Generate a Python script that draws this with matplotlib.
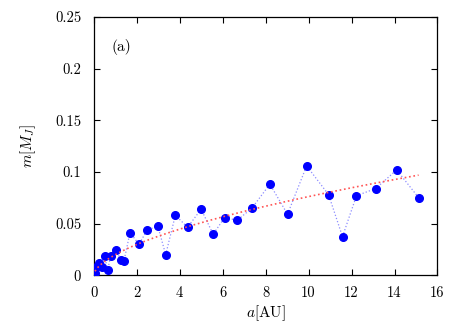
import numpy as np
import matplotlib
matplotlib.use('Agg')
import matplotlib.pyplot as plt
from matplotlib.ticker import FuncFormatter

plt.rcParams['font.family'] = 'serif'
plt.rcParams['font.serif'] = ['cmr10', 'DejaVu Serif']
plt.rcParams['mathtext.fontset'] = 'cm'
plt.rcParams['axes.unicode_minus'] = False

# semi-major axis [AU] and mass [M_J]
a_au = [0.06, 0.11, 0.25, 0.37, 0.51, 0.65, 0.79, 1.04, 1.26, 1.41,
        1.69, 2.11, 2.48, 2.98, 3.35, 3.80, 4.37, 5.00, 5.56, 6.09,
        6.68, 7.36, 8.20, 9.02, 9.91, 10.93, 11.58, 12.23, 13.12, 14.10,
        15.12]
m_mj = [0.0025, 0.0078, 0.0116, 0.0078, 0.0187, 0.0051, 0.0187, 0.0245, 0.0148, 0.0141,
        0.0413, 0.0300, 0.0436, 0.0478, 0.0200, 0.0581, 0.0465, 0.0640, 0.0397, 0.0558,
        0.0533, 0.0649, 0.0882, 0.0591, 0.1059, 0.0781, 0.0374, 0.0771, 0.0839, 0.1020,
        0.0752]

# power-law fit m = c * a^p (parameters)
fit_c = 0.0199
fit_p = 0.583

fig = plt.figure(figsize=(4.58, 3.21), dpi=100)
ax = fig.add_axes([0.2046, 0.1424, 0.7506, 0.8046])

ax.plot(a_au, m_mj, ':', color='#8c8cff', lw=0.9, zorder=2)
ax.plot(a_au, m_mj, 'o', color='#0000ff', ms=5.5, mec='#0000ff', zorder=3)

xf = np.linspace(min(a_au), max(a_au), 200)
ax.plot(xf, fit_c * xf ** fit_p, ':', color='#ff5555', lw=1.2, zorder=4)

ax.set_xlim(0, 16)
ax.set_ylim(0, 0.25)
ax.set_xticks(range(0, 17, 2))
ax.set_yticks([0, 0.05, 0.1, 0.15, 0.2, 0.25])
ax.yaxis.set_major_formatter(FuncFormatter(lambda v, p: f'{v:g}'))
ax.tick_params(direction='in', top=True, right=True, labelsize=10.5, length=4, width=0.8)
ax.tick_params(axis='x', pad=8)
ax.tick_params(axis='y', pad=9)
for s in ax.spines.values():
    s.set_linewidth(0.9)

ax.set_xlabel(r'$a[\mathrm{AU}]$', fontsize=11, labelpad=2)
ax.set_ylabel(r'$m[M_J]$', fontsize=11, labelpad=12)
ax.text(1.3, 0.221, '(a)', fontsize=11, ha='center', va='center')

fig.savefig('out.png', dpi=100)
